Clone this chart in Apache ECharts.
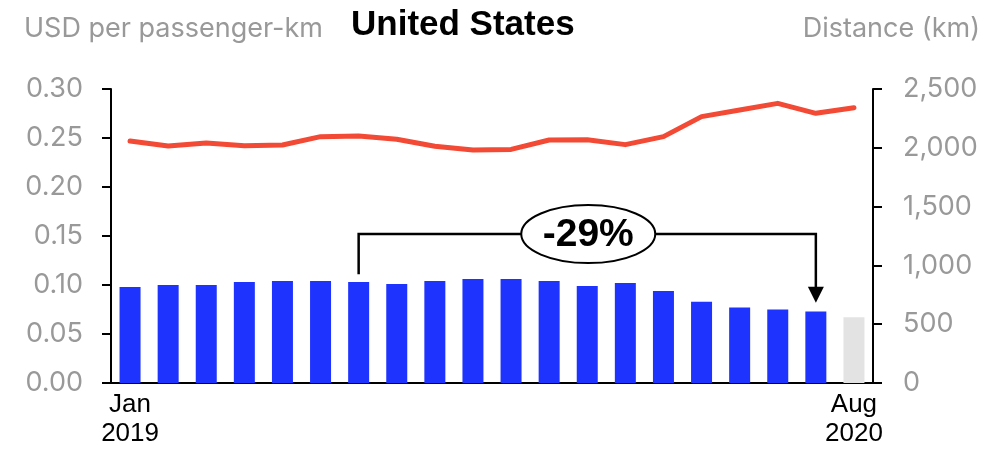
<!DOCTYPE html>
<html>
<head>
<meta charset="utf-8">
<script src="https://cdn.jsdelivr.net/npm/echarts@6/dist/echarts.min.js"></script>
<style>html,body{margin:0;padding:0;background:#fff}#c{width:996px;height:450px}</style>
</head>
<body>
<div id="c"></div>
<script>
const months = ['Jan 2019','Feb 2019','Mar 2019','Apr 2019','May 2019','Jun 2019','Jul 2019','Aug 2019','Sep 2019','Oct 2019','Nov 2019','Dec 2019','Jan 2020','Feb 2020','Mar 2020','Apr 2020','May 2020','Jun 2020','Jul 2020','Aug 2020'];
const costUsd = [0.098,0.100,0.100,0.103,0.104,0.104,0.103,0.101,0.104,0.106,0.106,0.104,0.099,0.102,0.094,0.083,0.077,0.075,0.073,0.067];
const distanceKm = [2058,2015,2041,2018,2024,2095,2100,2072,2013,1981,1986,2066,2069,2027,2095,2265,2321,2378,2293,2341];
const leftTicks = {min:0, max:0.30, interval:0.05};
const rightTicks = {min:0, max:2500, interval:500};
const changeLabel = '-29%';
const changeFrom = 6, changeTo = 18;

const BLUE = '#1f33ff', GREY_BAR = '#e3e3e3', RED = '#f24a35', GREY = '#999999';
const grayFont = 'Inter';
const blackFont = 'Liberation Sans';

const chart = echarts.init(document.getElementById('c'), null, {renderer:'canvas'});
const option = {
  animation: false,
  title: [
    {text:'USD per passenger-km', left: 19, top: 10, textStyle:{fontFamily:grayFont, fontSize:27, fontWeight:'normal', color:GREY}},
    {text:'United States', left: 346, top: 3, textStyle:{fontFamily:blackFont, fontSize:35, fontWeight:'bold', color:'#000'}},
    {text:'Distance (km)', right: 11, top: 10, textStyle:{fontFamily:grayFont, fontSize:27, fontWeight:'normal', color:GREY}}
  ],
  grid: {left:111, right:123, top:89, bottom:67},
  xAxis: {
    type:'category', data: months,
    axisLine:{lineStyle:{color:'#000', width:2}},
    axisTick:{show:false},
    axisLabel:{
      interval:(i)=> i===0 || i===months.length-1,
      formatter:(v)=> v.replace(' ','\n'),
      fontFamily:blackFont, fontSize:26, color:'#000', lineHeight:29, margin:7
    }
  },
  yAxis: [
    {type:'value', min:leftTicks.min, max:leftTicks.max, interval:leftTicks.interval,
     splitLine:{show:false},
     axisLine:{show:true, lineStyle:{color:'#000', width:2}},
     axisTick:{show:true, length:9, lineStyle:{color:'#000', width:2}},
     axisLabel:{formatter:(v)=>v.toFixed(2), fontFamily:grayFont, fontSize:27, color:GREY, margin:28}},
    {type:'value', min:rightTicks.min, max:rightTicks.max, interval:rightTicks.interval,
     splitLine:{show:false},
     axisLine:{show:true, lineStyle:{color:'#000', width:2}},
     axisTick:{show:true, length:9, lineStyle:{color:'#000', width:2}},
     axisLabel:{formatter:(v)=>v.toLocaleString('en-US'), fontFamily:grayFont, fontSize:27, color:GREY, margin:30}}
  ],
  series: [
    {type:'bar', yAxisIndex:0, barWidth:21,
     data: costUsd.map((v,i)=> i===costUsd.length-1 ? {value:v, itemStyle:{color:GREY_BAR}} : v),
     itemStyle:{color:BLUE}, z:2},
    {type:'line', yAxisIndex:1, data: distanceKm, showSymbol:false, symbol:'none',
     lineStyle:{color:RED, width:5, cap:'round', join:'round'}, z:3}
  ]
};
chart.setOption(option);

// annotation placed via the chart's own scales
const bracketY = 0.152, leftEnd = 0.111, arrowTip = 0.082;
const p = (i, v) => chart.convertToPixel({xAxisIndex:0, yAxisIndex:0}, [i, v]);
const a = p(changeFrom, bracketY), a2 = p(changeFrom, leftEnd);
const b = p(changeTo, bracketY), b2 = p(changeTo, arrowTip);
const mid = p(12, bracketY);
chart.setOption({
  graphic: [
    {type:'polyline', z:10, shape:{points:[a2, a, b, [b2[0], b2[1]-14]]}, style:{stroke:'#000', lineWidth:2.5, fill:null}},
    {type:'polygon', z:10, shape:{points:[[b2[0]-8, b2[1]-16],[b2[0]+8, b2[1]-16],[b2[0], b2[1]]]}, style:{fill:'#000'}},
    {type:'ellipse', z:11, shape:{cx:mid[0]+1, cy:mid[1], rx:67, ry:29}, style:{fill:'#fff', stroke:'#000', lineWidth:2}},
    {type:'text', z:12, x:mid[0]+1, y:mid[1]+1, style:{text:changeLabel, fontFamily:blackFont, fontSize:39, fontWeight:'bold', fill:'#000', align:'center', verticalAlign:'middle'}}
  ]
});
</script>
</body>
</html>
